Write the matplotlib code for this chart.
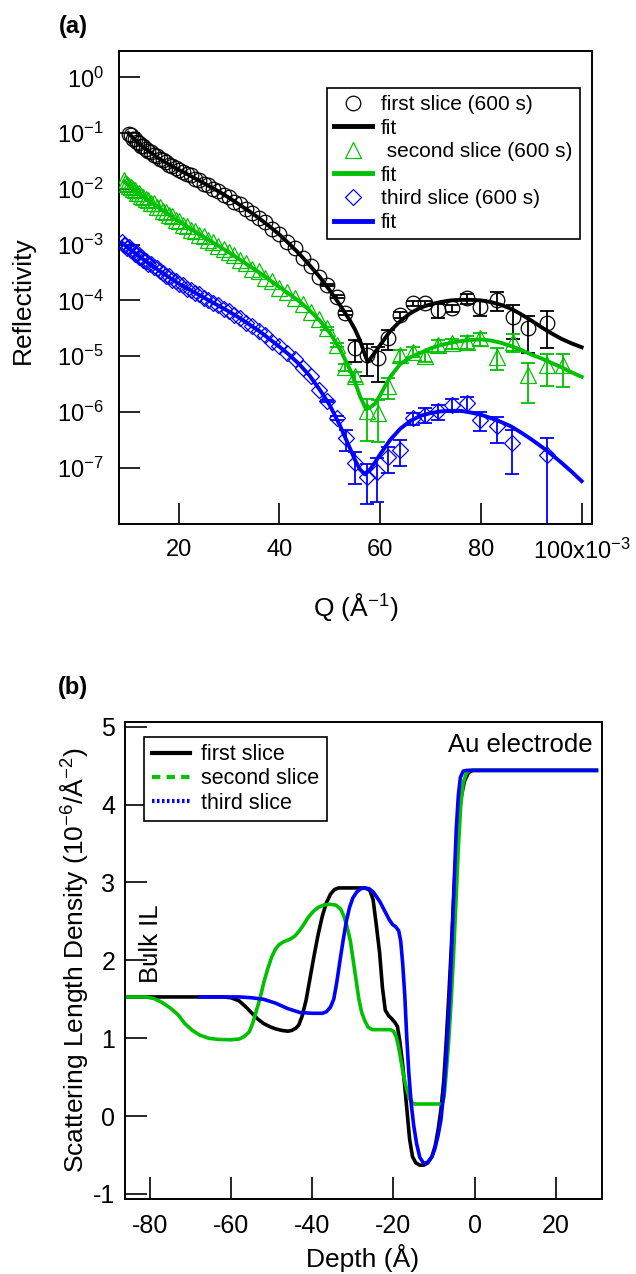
import matplotlib
matplotlib.use('Agg')
import matplotlib.pyplot as plt
from matplotlib.lines import Line2D
import numpy as np

plt.rcParams['font.family'] = ['Liberation Sans', 'DejaVu Sans']
plt.rcParams['mathtext.fontset'] = 'custom'
plt.rcParams['mathtext.rm'] = 'Liberation Sans'
plt.rcParams['mathtext.it'] = 'Liberation Sans:italic'
plt.rcParams['axes.unicode_minus'] = False

BLACK = '#000000'
GREEN = '#00c000'
BLUE = '#0000ff'

# ---------------- panel (a): reflectivity, Q in units of 1e-3 A^-1 ----------------
q_lo = [8.8, 9.1, 9.4, 9.8, 10.1, 10.5, 10.9, 11.3, 11.7, 12.1, 12.6, 13.0, 13.5, 14.0,
        14.5, 15.0, 15.6, 16.2, 16.8, 17.4, 18.0, 18.7, 19.4, 20.1, 20.8, 21.6, 22.4,
        23.2, 24.1, 25.0, 25.9, 26.8, 27.8, 28.9, 29.9, 31.0, 32.2, 33.4, 34.6, 35.9,
        37.2, 38.6, 40.0, 41.5, 43.0, 44.6, 46.2, 47.9]

# log10(R), low-Q part (first slice starts at 10.1, second at 9.1, third at 8.8)
first_lo = [-1.02, -1.04, -1.10, -1.11, -1.16, -1.18, -1.23, -1.24, -1.28, -1.33,
            -1.34, -1.39, -1.41, -1.47, -1.49, -1.52, -1.57, -1.59, -1.62, -1.67,
            -1.69, -1.74, -1.76, -1.82, -1.84, -1.91, -1.93, -2.00, -2.03, -2.11,
            -2.14, -2.23, -2.28, -2.37, -2.43, -2.53, -2.60, -2.72, -2.81, -2.96,
            -3.06, -3.24, -3.38, -3.58]
second_lo = [-1.85, -1.90, -1.91, -1.95, -1.96, -2.01, -2.02, -2.07, -2.08, -2.13,
             -2.14, -2.19, -2.20, -2.25, -2.26, -2.32, -2.33, -2.39, -2.41, -2.47,
             -2.49, -2.55, -2.58, -2.64, -2.67, -2.73, -2.76, -2.83, -2.85, -2.92,
             -2.95, -3.03, -3.07, -3.14, -3.19, -3.28, -3.33, -3.43, -3.48, -3.59,
             -3.66, -3.77, -3.85, -3.96, -4.06, -4.21, -4.34]
third_lo = [-2.95, -3.01, -3.00, -3.06, -3.05, -3.10, -3.11, -3.16, -3.15, -3.22,
            -3.23, -3.28, -3.29, -3.35, -3.35, -3.41, -3.42, -3.48, -3.50, -3.56,
            -3.57, -3.63, -3.65, -3.71, -3.73, -3.79, -3.81, -3.87, -3.89, -3.96,
            -3.99, -4.05, -4.08, -4.16, -4.19, -4.26, -4.31, -4.40, -4.46, -4.55,
            -4.62, -4.74, -4.82, -4.95, -5.05, -5.22, -5.36, -5.60]

# high-Q part with relative error (dR/R)
first_q_hi = [49.4, 51.4, 53.0, 55.0, 57.3, 59.6, 61.6, 63.9, 66.6, 68.9, 71.5, 74.2,
              77.2, 79.8, 83.1, 86.4, 89.4, 93.1]
first_hi = [-3.72, -3.93, -4.23, -4.86, -4.98, -5.04, -4.68, -4.26, -4.05, -4.05,
            -4.17, -4.14, -3.96, -4.11, -3.99, -4.29, -4.50, -4.41]
first_err = [0.05, 0.05, 0.08, 0.42, 0.57, 0.62, 0.39, 0.12, 0.10, 0.10, 0.27, 0.15,
             0.20, 0.33, 0.36, 0.60, 0.64, 0.64]

second_q_hi = [49.4, 51.4, 53.0, 55.0, 57.3, 59.6, 61.6, 63.9, 66.6, 68.9, 71.5, 74.2,
               77.2, 79.8, 83.1, 86.4, 89.4, 93.1, 96.4]
second_hi = [-4.50, -4.80, -5.20, -5.36, -5.99, -6.02, -5.54, -4.98, -4.92, -5.00,
             -4.80, -4.77, -4.74, -4.68, -5.01, -4.74, -5.34, -5.16, -5.16]
second_err = [0.05, 0.08, 0.15, 0.20, 0.70, 0.70, 0.41, 0.24, 0.20, 0.20, 0.24, 0.20,
              0.27, 0.27, 0.42, 0.36, 0.68, 0.57, 0.60]

third_q_hi = [49.4, 51.4, 53.3, 55.0, 57.3, 59.3, 61.6, 63.9, 66.6, 68.9, 71.5, 74.2,
              77.2, 79.8, 83.1, 86.1, 93.1]
third_hi = [-5.80, -6.10, -6.47, -6.92, -7.16, -7.07, -6.80, -6.68, -6.11, -6.05,
            -5.99, -5.87, -5.84, -6.14, -6.26, -6.56, -6.77]
third_err = [0.05, 0.08, 0.42, 0.57, 0.68, 0.72, 0.50, 0.48, 0.24, 0.30, 0.30, 0.27,
             0.30, 0.36, 0.50, 0.72, 0.97]

# fits (log10 R)
fit1_q = [10, 12, 14, 16, 18, 20, 22, 24, 26, 28, 30, 32, 34, 36, 38, 40, 42, 44, 46, 48,
          50, 52, 54, 55, 56, 57, 57.5, 58, 59, 60, 62, 64, 66, 68, 70, 72, 74, 76, 78,
          80, 82, 84, 86, 88, 90, 92, 94, 96, 98, 100]
fit1 = [-1.00, -1.18, -1.32, -1.45, -1.56, -1.66, -1.75, -1.85, -1.95, -2.05, -2.16,
        -2.28, -2.40, -2.53, -2.67, -2.82, -2.99, -3.17, -3.37, -3.58, -3.82, -4.08,
        -4.36, -4.52, -4.72, -4.98, -5.10, -5.05, -4.93, -4.80, -4.55, -4.37, -4.23,
        -4.13, -4.07, -4.03, -4.00, -3.99, -3.99, -4.00, -4.03, -4.08, -4.15, -4.25,
        -4.36, -4.48, -4.59, -4.69, -4.77, -4.84]

fit2_q = [9.2, 10, 12, 14, 16, 18, 20, 22, 24, 26, 28, 30, 32, 34, 36, 38, 40, 42, 44, 46,
          48, 50, 52, 54, 55, 56, 57.2, 58, 59, 60, 61, 62, 64, 66, 68, 70, 72, 74, 76,
          78, 80, 82, 84, 86, 88, 90, 92, 94, 96, 98, 100]
fit2 = [-1.87, -1.93, -2.08, -2.21, -2.33, -2.46, -2.58, -2.70, -2.81, -2.92, -3.03,
        -3.14, -3.26, -3.38, -3.50, -3.63, -3.76, -3.89, -4.02, -4.18, -4.36, -4.58,
        -4.87, -5.24, -5.46, -5.72, -5.95, -5.92, -5.85, -5.70, -5.53, -5.37, -5.14,
        -5.02, -4.94, -4.86, -4.80, -4.76, -4.73, -4.71, -4.70, -4.72, -4.76, -4.82,
        -4.89, -4.97, -5.04, -5.12, -5.20, -5.29, -5.37]

fit3_q = [8.8, 10, 12, 14, 16, 18, 20, 22, 24, 26, 28, 30, 32, 34, 36, 38, 40, 42, 44, 46,
          48, 50, 52, 54, 55, 56, 57, 58, 59, 60, 62, 64, 66, 68, 70, 72, 74, 76, 78, 80,
          82, 84, 86, 88, 90, 92, 94, 96, 98, 100]
fit3 = [-2.97, -3.06, -3.20, -3.33, -3.46, -3.58, -3.70, -3.80, -3.90, -4.00, -4.10,
        -4.20, -4.31, -4.43, -4.55, -4.69, -4.83, -4.98, -5.15, -5.35, -5.60, -5.88,
        -6.24, -6.65, -6.86, -7.03, -7.12, -7.03, -6.90, -6.76, -6.50, -6.30, -6.16,
        -6.07, -6.02, -5.99, -5.98, -5.98, -6.01, -6.05, -6.11, -6.18, -6.26, -6.37,
        -6.49, -6.62, -6.76, -6.91, -7.07, -7.24]

# ---------------- panel (b): SLD profiles ----------------
first_z = [-86.0, -62, -60, -58, -56.5, -55, -53.5, -52, -50.5, -49, -47.5, -46, -45,
           -44, -43.3, -42.5, -41.5, -40.5, -39.5, -38.5, -37.5, -36.5, -35.5, -34.5,
           -33.5, -27, -25.8, -25.0, -24.2, -23.4, -22.7, -22.0, -21.2, -20.4, -19.6,
           -19.0, -18.4, -17.8, -17.2, -16.6, -16.0, -15.3, -14.5, -13.5, -12.5, -11.5,
           -10.5, -9.7, -9.0, -8.3, -7.6, -7.0, -6.4, -5.8, -5.2, -4.6, -4.0, -3.3,
           -2.5, -1.5, -0.5, 30.0]
first_sld = [1.53, 1.53, 1.52, 1.48, 1.41, 1.33, 1.25, 1.19, 1.15, 1.12, 1.10, 1.09, 1.10,
             1.13, 1.17, 1.28, 1.49, 1.78, 2.07, 2.34, 2.57, 2.74, 2.85, 2.91, 2.93, 2.93,
             2.90, 2.78, 2.45, 2.10, 1.65, 1.36, 1.29, 1.25, 1.20, 1.15, 0.95, 0.70, 0.38,
             0.04, -0.30, -0.52, -0.60, -0.63, -0.63, -0.60, -0.52, -0.38, -0.18, 0.08,
             0.45, 0.95, 1.50, 2.10, 2.75, 3.35, 3.80, 4.10, 4.30, 4.41, 4.44, 4.44]

second_z = [-86.0, -81.0, -79.0, -77.0, -75.0, -73.0, -71.4, -69.5, -67.7, -65.5, -63.2,
            -60, -58.0, -56.8, -55.5, -54.6, -53.7, -52.8, -51.9, -50.9, -50.0, -49.1,
            -48.2, -47.0, -45.5, -44.3, -43.3, -42.2, -41.0, -39.7, -38.5, -37.2, -35.6,
            -34.2, -33.0, -32.2, -31.4, -30.6, -29.9, -29.2, -28.5, -27.8, -27.0, -26.2,
            -25.2, -20.8, -20.0, -19.3, -18.7, -18.1, -17.5, -16.8, -16.0, -15.2, -14.5,
            -8.0, -7.5, -7.0, -6.4, -5.8, -5.2, -4.6, -4.0, -3.4, -2.8, -2.0, -1.2, 30.0]
second_sld = [1.53, 1.53, 1.51, 1.46, 1.39, 1.30, 1.19, 1.10, 1.04, 1.00, 0.985, 0.98,
              0.99, 1.02, 1.08, 1.20, 1.36, 1.52, 1.72, 1.90, 2.04, 2.14, 2.20, 2.24,
              2.27, 2.31, 2.37, 2.45, 2.55, 2.63, 2.68, 2.71, 2.72, 2.71, 2.66, 2.57,
              2.43, 2.25, 2.00, 1.75, 1.50, 1.33, 1.22, 1.14, 1.11, 1.11, 1.09, 1.02,
              0.88, 0.70, 0.52, 0.36, 0.22, 0.16, 0.155, 0.155, 0.25, 0.55, 0.95, 1.45,
              2.05, 2.75, 3.45, 4.00, 4.28, 4.41, 4.44, 4.44]

third_z = [-67.7, -58, -55, -52, -49, -46, -43, -40, -37.5, -36.5, -35.5, -34.7, -34.0,
           -33.2, -32.4, -31.6, -30.8, -30.0, -29.0, -28.0, -27.0, -26.0, -25.0, -24.2,
           -23.4, -22.6, -21.8, -21.0, -20.2, -19.4, -18.7, -18.2, -17.7, -17.2, -16.7,
           -16.2, -15.6, -15.0, -14.3, -13.5, -12.5, -11.5, -10.5, -9.8, -9.0, -8.3,
           -7.6, -7.0, -6.5, -6.0, -5.5, -5.0, -4.5, -4.0, -3.5, -2.8, -2.0, 30.0]
third_sld = [1.53, 1.53, 1.52, 1.50, 1.45, 1.38, 1.33, 1.32, 1.32, 1.34, 1.40, 1.50, 1.70,
             1.98, 2.25, 2.50, 2.68, 2.80, 2.88, 2.92, 2.93, 2.92, 2.88, 2.82, 2.76, 2.68,
             2.60, 2.52, 2.46, 2.43, 2.38, 2.25, 1.95, 1.55, 1.00, 0.55, 0.15, -0.12,
             -0.35, -0.53, -0.61, -0.59, -0.52, -0.42, -0.25, -0.05, 0.30, 0.75, 1.20,
             1.70, 2.35, 3.05, 3.70, 4.12, 4.35, 4.43, 4.44, 4.44]

W, H = 636, 1274
fig = plt.figure(figsize=(W / 100, H / 100), dpi=100)

def px_axes(left, top, right, bottom):
    return fig.add_axes([left / W, 1 - bottom / H, (right - left) / W, (bottom - top) / H])

# ---------------- draw (a) ----------------
ax1 = px_axes(119, 50.7, 591.7, 523.5)
p10 = lambda v: 10 ** np.asarray(v, dtype=float)

series = [
    (q_lo[4:], first_lo, first_q_hi, first_hi, first_err, fit1_q, fit1, BLACK, 'o'),
    (q_lo[1:], second_lo, second_q_hi, second_hi, second_err, fit2_q, fit2, GREEN, '^'),
    (q_lo, third_lo, third_q_hi, third_hi, third_err, fit3_q, fit3, BLUE, 'D'),
]
for qlo, rlo, qhi, rhi, ferr, fq, fr, c, m in series:
    ms = 8.5 if m == 'D' else 11 if m == '^' else 10.5
    rh = p10(rhi)
    ax1.errorbar(qhi, rh, yerr=rh * np.asarray(ferr), fmt='none', ecolor=c,
                 elinewidth=1.3, capsize=5, capthick=1.3, zorder=2)
    ax1.plot(qlo, p10(rlo), marker=m, mec=c, ls='none', mfc='none', ms=ms, mew=0.9, zorder=3)
    ax1.plot(qhi, rh, marker=m, mec=c, ls='none', mfc='none', ms=ms, mew=0.9, zorder=3)
    ax1.plot(fq, p10(fr), color=c, lw=2.8, zorder=4)

ax1.set_yscale('log')
ax1.set_xlim(8.15, 102)
ax1.set_ylim(1e-8, 3)
exps = [0, -1, -2, -3, -4, -5, -6, -7]
ax1.set_yticks([10.0 ** e for e in exps])
ax1.set_yticklabels(['10$^{%d}$' % e for e in exps])
ax1.yaxis.set_minor_locator(matplotlib.ticker.NullLocator())
ax1.set_xticks([20, 40, 60, 80, 100])
ax1.set_xticklabels(['20', '40', '60', '80', '100x10$^{-3}$'])
ax1.tick_params(direction='in', length=15, width=1.2, labelsize=17, pad=11)
for s in ax1.spines.values():
    s.set_linewidth(1.4)

h1 = [Line2D([], [], ls='none', marker='o', mec=BLACK, mfc='none', ms=10.5, mew=0.9),
      Line2D([], [], color=BLACK, lw=3.5),
      Line2D([], [], ls='none', marker='^', mec=GREEN, mfc='none', ms=11, mew=0.9),
      Line2D([], [], color=GREEN, lw=3.5),
      Line2D([], [], ls='none', marker='D', mec=BLUE, mfc='none', ms=8.5, mew=0.9),
      Line2D([], [], color=BLUE, lw=3.5)]
l1 = ['first slice (600 s)', 'fit', ' second slice (600 s)', 'fit', 'third slice (600 s)', 'fit']
leg1 = ax1.legend(h1, l1, loc='upper right', bbox_to_anchor=(0.975, 0.9217),
                  borderaxespad=0, fontsize=15, frameon=True, fancybox=False,
                  edgecolor=BLACK, framealpha=1, handlelength=1.8, handletextpad=0.45,
                  labelspacing=0.22, borderpad=0.35)
leg1.get_frame().set_linewidth(1.2)

fig.text(73 / W, 1 - 26 / H, '(a)', fontsize=17, fontweight='bold', ha='center', va='center')
fig.text(23 / W, 1 - 300 / H, 'Reflectivity', fontsize=19, rotation=90, ha='center', va='center')
fig.text(356 / W, 1 - 607 / H, 'Q (Å$^{-1}$)', fontsize=19, ha='center', va='center')

# ---------------- draw (b) ----------------
ax2 = px_axes(125, 721.7, 601.7, 1199)
ax2.plot(first_z, first_sld, color=BLACK, lw=2.6)
ax2.plot(second_z, second_sld, color=GREEN, lw=2.6)
ax2.plot(third_z, third_sld, color=BLUE, lw=2.6)
ax2.set_xlim(-86.1, 31.3)
ax2.set_ylim(-1.065, 5.065)
ax2.set_xticks([-80, -60, -40, -20, 0, 20])
ax2.set_yticks([-1, 0, 1, 2, 3, 4, 5])
ax2.tick_params(direction='in', length=16, width=1.2, labelsize=18)
ax2.tick_params(axis='x', pad=11)
ax2.tick_params(axis='y', pad=7)
for s in ax2.spines.values():
    s.set_linewidth(1.4)

h2 = [Line2D([], [], color=BLACK, lw=3, ls='-'),
      Line2D([], [], color=GREEN, lw=3, ls=(0, (2, 1.5))),
      Line2D([], [], color=BLUE, lw=3, ls=(0, (0.6, 0.6)))]
leg2 = ax2.legend(h2, ['first slice', 'second slice', 'third slice'], loc='upper left',
                  bbox_to_anchor=(0.0399, 0.9686), borderaxespad=0, fontsize=15.5,
                  frameon=True, fancybox=False, edgecolor=BLACK, framealpha=1,
                  handlelength=1.8, handletextpad=0.5, labelspacing=0.15, borderpad=0.35)
leg2.get_frame().set_linewidth(1.2)

ax2.text(29.0, 4.77, 'Au electrode', fontsize=18.5, ha='right', va='center')
ax2.text(-79.8, 1.71, 'Bulk IL', fontsize=18.5, rotation=90, ha='center', va='bottom')

fig.text(73 / W, 1 - 687.5 / H, '(b)', fontsize=17, fontweight='bold', ha='center', va='center')
fig.text(74 / W, 1 - 960 / H, 'Scattering Length Density (10$^{-6}$/Å$^{-2}$)',
         fontsize=19, rotation=90, ha='center', va='center')
fig.text(363 / W, 1 - 1258 / H, 'Depth (Å)', fontsize=19, ha='center', va='center')

fig.savefig('out.png', dpi=100)
